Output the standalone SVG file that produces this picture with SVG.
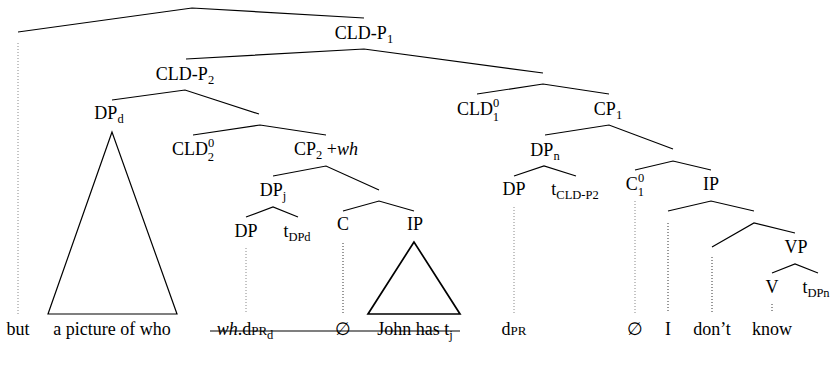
<svg xmlns="http://www.w3.org/2000/svg" width="832" height="367" viewBox="0 0 832 367" font-family="Liberation Serif, DejaVu Serif, serif">
<style>
text{font-size:18px;fill:#000;text-anchor:middle}
.sub{font-size:12.5px}
.sc{font-size:13px}
.br{fill:none;stroke:#000;stroke-width:1.2}
.tri{fill:none;stroke:#000;stroke-width:1.2}
.tri2{fill:none;stroke:#000;stroke-width:1.7}
.dot{stroke:#888;stroke-width:1;stroke-dasharray:1 2}
.dotd{stroke:#333;stroke-width:1;stroke-dasharray:1 2}
</style>
<rect width="832" height="367" fill="#fff"/>
<g id="connectors">
<polyline class="br" points="18,32 192,8 364,18"/>
<polyline class="br" points="186,59 364,49 543,73"/>
<polyline class="br" points="112,100 185,90 259,114"/>
<polyline class="br" points="193,135 260,125 326,135"/>
<polyline class="br" points="273,176 326,166 379,190"/>
<polyline class="br" points="246,217 273,207 298,217"/>
<polyline class="br" points="343,211 379,201 414,211"/>
<polyline class="br" points="477,94 543,84 609,94"/>
<polyline class="br" points="545,135 609,125 673,149"/>
<polyline class="br" points="514,176 544,166 576,176"/>
<polyline class="br" points="635,170 673,161 711,170"/>
<polyline class="br" points="668,211 711,201 754,211"/>
<polyline class="br" points="712,247 754,223 795,233"/>
<polyline class="br" points="772,273 795,264 818,273"/>
<line class="dot" x1="18" y1="43" x2="18" y2="314"/>
<line class="dot" x1="246" y1="248" x2="246" y2="312"/>
<line class="dotd" x1="343" y1="243" x2="343" y2="313"/>
<line class="dot" x1="514" y1="207" x2="514" y2="313"/>
<line class="dot" x1="635" y1="201" x2="635" y2="313"/>
<line class="dotd" x1="668" y1="223" x2="668" y2="313"/>
<line class="dotd" x1="712" y1="257" x2="712" y2="313"/>
<line class="dotd" x1="772" y1="304" x2="772" y2="313"/>
</g>
<g id="tri-dpd"><polygon class="tri" points="112,132 48,314 177,314"/></g>
<g id="tri-ip"><polygon class="tri2" points="414,242 368,314 460,314"/></g>
<g id="n-cldp1"><text x="364" y="39">CLD-P<tspan class="sub" dy="4">1</tspan></text></g>
<g id="n-cldp2"><text x="185" y="80">CLD-P<tspan class="sub" dy="4">2</tspan></text></g>
<g id="n-dpd"><text x="109" y="119">DP<tspan class="sub" dy="4">d</tspan></text></g>
<g id="n-cld02"><text x="193" y="155">CLD<tspan class="sub" dy="-8.5">0</tspan><tspan class="sub" dx="-6.3" dy="14">2</tspan></text></g>
<g id="n-cp2"><text x="326" y="155">CP<tspan class="sub" dy="4">2</tspan><tspan dy="-4"> +</tspan><tspan font-style="italic">wh</tspan></text></g>
<g id="n-dpj"><text x="273" y="196">DP<tspan class="sub" dy="4">j</tspan></text></g>
<g id="n-dp1"><text x="246" y="237">DP</text></g>
<g id="n-tdpd"><text x="297" y="237">t<tspan class="sub" dy="4">DPd</tspan></text></g>
<g id="n-c"><text x="343" y="230">C</text></g>
<g id="n-ip1"><text x="415" y="230">IP</text></g>
<g id="n-cld01"><text x="478" y="115">CLD<tspan class="sub" dy="-8.5">0</tspan><tspan class="sub" dx="-6.3" dy="14">1</tspan></text></g>
<g id="n-cp1"><text x="608" y="115">CP<tspan class="sub" dy="4">1</tspan></text></g>
<g id="n-dpn"><text x="545" y="156">DP<tspan class="sub" dy="4">n</tspan></text></g>
<g id="n-dp2"><text x="514" y="195">DP</text></g>
<g id="n-tcldp2"><text x="575" y="195">t<tspan class="sub" dy="4">CLD-P2</tspan></text></g>
<g id="n-c01"><text x="635" y="190">C<tspan class="sub" dy="-8.5">0</tspan><tspan class="sub" dx="-6.3" dy="14">1</tspan></text></g>
<g id="n-ip2"><text x="711" y="190">IP</text></g>
<g id="n-vp"><text x="796" y="253">VP</text></g>
<g id="n-v"><text x="772" y="293">V</text></g>
<g id="n-tdpn"><text x="816" y="293">t<tspan class="sub" dy="4">DPn</tspan></text></g>
<g id="w-but"><text x="18" y="335">but</text></g>
<g id="w-picture"><text x="112" y="335">a picture of who</text></g>
<g id="w-whdpr"><text x="245" y="335"><tspan font-style="italic">wh</tspan>.d<tspan class="sc">PR</tspan><tspan class="sub" dy="4">d</tspan></text></g>
<g id="w-empty1"><text x="343" y="335">∅</text></g>
<g id="w-john"><text x="415" y="335">John has t<tspan class="sub" dy="4">j</tspan></text></g>
<line id="strike" x1="210" y1="331" x2="460" y2="331" stroke="#000" stroke-width="1.2"/>
<g id="w-dpr"><text x="514" y="335">d<tspan class="sc">PR</tspan></text></g>
<g id="w-empty2"><text x="635" y="335">∅</text></g>
<g id="w-i"><text x="668" y="335">I</text></g>
<g id="w-dont"><text x="712" y="335">don’t</text></g>
<g id="w-know"><text x="772" y="335">know</text></g>
</svg>
